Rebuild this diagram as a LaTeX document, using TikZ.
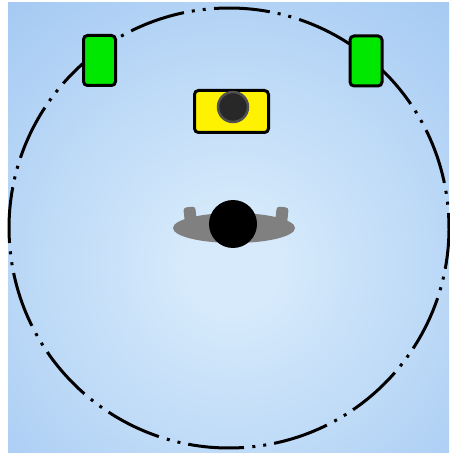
\documentclass[tikz,border=0pt]{standalone}
\definecolor{bgin}{RGB}{214,234,251}
\definecolor{bgout}{RGB}{136,183,238}
\definecolor{spkgreen}{RGB}{0,232,0}
\definecolor{lens}{RGB}{40,40,40}
\definecolor{lensrim}{RGB}{80,80,80}
\definecolor{bodygray}{RGB}{128,128,128}
\pgfdeclareradialshading{bgshade}{\pgfpoint{0bp}{0bp}}{color(0bp)=(bgin); color(3bp)=(bgin); color(34bp)=(bgout); color(50bp)=(bgout)}
\tikzset{
  spk/.style={draw=black, line width=3pt, fill=spkgreen, rounded corners=4pt,
    minimum width=32pt, minimum height=50pt, inner sep=0pt, rectangle},
  cam/.style={draw=black, line width=3pt, fill=yellow, rounded corners=4pt,
    minimum width=74pt, minimum height=42pt, inner sep=0pt, rectangle},
  ring/.style={line width=3pt, black,
    dash pattern=on 56pt off 8pt on 3pt off 8pt on 3pt off 8.4pt},
  hand/.style={fill=bodygray, rounded corners=3pt},
}
\begin{document}
\begin{tikzpicture}[x=1pt,y=-1pt]
\useasboundingbox (0,0) rectangle (449,454);
\fill[white] (0,0) rectangle (449,454);
\begin{scope}
  \clip (8,3) rectangle (449,452);
  \shade[shading=bgshade] (233,265) circle (380);
\end{scope}
% dash-dot-dot circle
\coordinate (c) at (229,228);
\draw[ring] (c) ++(86.1:220) arc[start angle=86.1, end angle=446.1, radius=220];
% speakers
\node[spk] (spkL) at (99.5,60.5) {};
\node[spk] (spkR) at (366,61) {};
% camera
\node[cam] (camera) at (231.5,111.5) {};
\fill[lens, draw=lensrim, line width=2.5pt] (233,107) circle (15);
% person
\begin{scope}[rotate around={6:(190,214)}]
  \fill[hand] (184,207) rectangle (196,224);
\end{scope}
\begin{scope}[rotate around={-6:(282,214)}]
  \fill[hand] (276,207) rectangle (288,224);
\end{scope}
\fill[bodygray] (234,228) ellipse [x radius=61, y radius=15];
\fill[black] (233,224) circle (24);
\end{tikzpicture}
\end{document}
